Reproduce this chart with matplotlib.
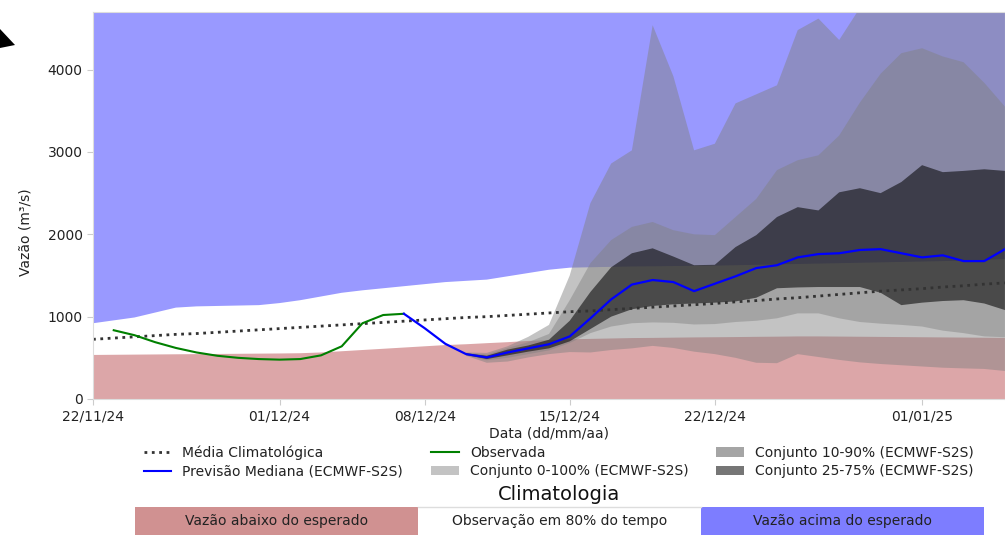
import numpy as np
import matplotlib.pyplot as plt
import matplotlib.dates as mdates
from matplotlib.lines import Line2D
from matplotlib.patches import Patch, Rectangle, Polygon

# Dias de 22/11/24 a 05/01/25
dias = np.arange('2024-11-22', '2025-01-06', dtype='datetime64[D]')

# Climatologia (limites de 80% do tempo) e média
clim_inf = [535, 537, 539, 541, 543, 545, 547, 549, 551, 553, 556, 565, 580, 595,
            610, 625, 640, 655, 665, 678, 690, 705, 715, 725, 730, 735, 740, 742,
            745, 748, 750, 752, 755, 757, 760, 760, 758, 756, 754, 752, 750, 748,
            746, 744, 742]
clim_sup = [920, 955, 990, 1050, 1110, 1125, 1130, 1135, 1140, 1165, 1200, 1245,
            1290, 1320, 1345, 1370, 1395, 1420, 1435, 1450, 1490, 1530, 1570, 1595,
            1600, 1605, 1610, 1612, 1615, 1618, 1620, 1625, 1630, 1635, 1640, 1645,
            1650, 1655, 1660, 1665, 1670, 1675, 1680, 1690, 1700]
clim_media = [725, 740, 755, 770, 785, 795, 810, 825, 840, 855, 870, 885, 900, 915,
              930, 945, 960, 975, 990, 1000, 1015, 1030, 1045, 1060, 1070, 1085,
              1100, 1115, 1130, 1145, 1160, 1180, 1195, 1215, 1230, 1250, 1270, 1290,
              1310, 1325, 1340, 1360, 1375, 1395, 1410]

# Vazão observada (23/11 a 07/12)
obs = [835, 775, 690, 620, 565, 525, 500, 485, 478, 485, 530, 640, 920, 1020, 1035]

# Previsão mediana (07/12 a 05/01)
mediana = [1035, 860, 670, 545, 505, 565, 615, 665, 760, 980, 1210, 1390, 1445, 1420,
           1310, 1400, 1490, 1590, 1625, 1720, 1760, 1770, 1810, 1820, 1770, 1720,
           1745, 1675, 1675, 1820]

# Conjunto ECMWF-S2S (10/12 a 05/01)
p0 = [525, 440, 455, 505, 545, 570, 565, 595, 615, 645, 620, 575, 545, 500, 440, 435,
      545, 510, 475, 445, 425, 410, 395, 380, 372, 365, 340]
p100 = [565, 560, 640, 755, 900, 1500, 2380, 2860, 3020, 4540, 3920, 3020, 3100, 3590,
        3700, 3810, 4480, 4620, 4360, 4750, 5000, 5200, 5300, 5200, 5100, 5000, 4900]
p10 = [530, 470, 500, 545, 590, 680, 800, 880, 920, 930, 925, 905, 910, 935, 950, 980,
       1040, 1040, 980, 935, 915, 900, 880, 830, 800, 760, 750]
p90 = [560, 540, 620, 690, 790, 1200, 1650, 1930, 2090, 2150, 2050, 2000, 1990, 2210,
       2430, 2780, 2900, 2960, 3200, 3600, 3950, 4200, 4260, 4160, 4090, 3840, 3550]
p25 = [535, 485, 530, 575, 615, 700, 850, 1000, 1090, 1130, 1150, 1160, 1170, 1185,
       1230, 1345, 1355, 1360, 1360, 1360, 1290, 1140, 1170, 1190, 1200, 1160, 1080]
p75 = [555, 525, 600, 650, 720, 950, 1300, 1600, 1770, 1830, 1730, 1625, 1630, 1845,
       1990, 2210, 2330, 2290, 2510, 2560, 2500, 2635, 2840, 2755, 2770, 2790, 2770]

y_max = 4700
datas_ticks = np.array(['2024-11-22', '2024-12-01', '2024-12-08', '2024-12-15',
                        '2024-12-22', '2025-01-01'], dtype='datetime64[D]')

dias_obs = dias[1:16]
dias_prev = dias[15:]
dias_ens = dias[18:]

fig = plt.figure(figsize=(10.05, 5.35), dpi=100)
ax = fig.add_axes([93 / 1005, 1 - 399 / 535, 912 / 1005, 387 / 535])

# Faixas climatológicas
ax.fill_between(dias, 0, clim_inf, facecolor='#dca6a8', lw=0)
ax.fill_between(dias, clim_sup, y_max, facecolor='#9999ff', lw=0)

# Conjunto
ax.fill_between(dias_ens, p0, p100, facecolor='gray', alpha=0.47, lw=0)
ax.fill_between(dias_ens, p10, p90, facecolor='gray', alpha=0.45, lw=0)
ax.fill_between(dias_ens, p25, p75, facecolor='black', alpha=0.55, lw=0)

ax.plot(dias, clim_media, ls=':', color='#333333', lw=2)
ax.plot(dias_obs, obs, color='green', lw=1.5)
ax.plot(dias_prev, mediana, color='blue', lw=1.6)

ax.set_xlim(dias[0], dias[-1])
ax.set_ylim(0, y_max)
ax.set_yticks([0, 1000, 2000, 3000, 4000])
ax.set_xticks(datas_ticks)
ax.xaxis.set_major_formatter(mdates.DateFormatter('%d/%m/%y'))
ax.tick_params(labelsize=10, color='#cccccc', labelcolor='#222222', length=4)
for s in ax.spines.values():
    s.set_color('#dddddd')
ax.set_xlabel('Data (dd/mm/aa)', fontsize=10, color='#222222', labelpad=2)
ax.set_ylabel('Vazão (m³/s)', fontsize=10, color='#222222')
ax.yaxis.set_label_coords(-0.066, 0.43)

# Legenda principal
handles = [
    Line2D([], [], ls=':', color='#333333', lw=2, label='Média Climatológica'),
    Line2D([], [], color='blue', lw=1.5, label='Previsão Mediana (ECMWF-S2S)'),
    Line2D([], [], color='green', lw=1.5, label='Observada'),
    Patch(facecolor='#c3c3c3', label='Conjunto 0-100% (ECMWF-S2S)'),
    Patch(facecolor='#a5a5a5', label='Conjunto 10-90% (ECMWF-S2S)'),
    Patch(facecolor='#767676', label='Conjunto 25-75% (ECMWF-S2S)'),
]
fig.legend(handles=handles, loc='center', bbox_to_anchor=(0.556, 1 - 462 / 535),
           ncol=3, frameon=False, fontsize=10, labelspacing=0.32,
           labelcolor='#222222')

# Legenda da climatologia
fig.text(559 / 1005, 1 - 495 / 535, 'Climatologia', ha='center', va='center',
         fontsize=14, color='#111111')
caixas = [('Vazão abaixo do esperado', '#d09191'),
          ('Observação em 80% do tempo', 'white'),
          ('Vazão acima do esperado', '#7d7dff')]
x0 = 135 / 1005
w = 283 / 1005
for i, (txt, cor) in enumerate(caixas):
    fig.patches.append(Rectangle((x0 + i * w, -0.02), w, 0.02 + 28 / 535,
                                 transform=fig.transFigure, facecolor=cor,
                                 edgecolor='none'))
    fig.text(x0 + (i + 0.5) * w, 1 - 521 / 535, txt, ha='center', va='center',
             fontsize=10, color='#222222')
fig.lines.append(Line2D([x0 + w, x0 + 2 * w], [28 / 535, 28 / 535],
                        transform=fig.transFigure, color='#dddddd', lw=1))

# Ponta de seta no canto
fig.patches.append(Polygon([(0, 1 - 29 / 535), (15 / 1005, 1 - 45 / 535),
                            (0, 1 - 48 / 535)], closed=True,
                           transform=fig.transFigure, facecolor='black'))

fig.savefig('out.png', dpi=100)
